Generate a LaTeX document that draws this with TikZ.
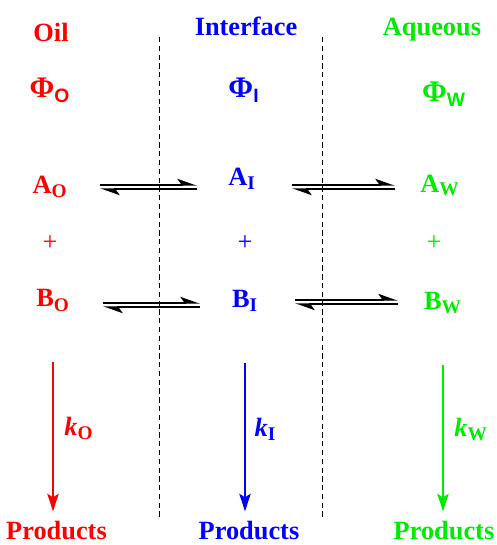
\documentclass[tikz,border=0pt]{standalone}
\usepackage{fontspec}
\setmainfont{Liberation Serif}
\setsansfont{Liberation Sans}
\usetikzlibrary{arrows.meta,calc}

\definecolor{oilred}{RGB}{255,0,0}
\definecolor{ifblue}{RGB}{0,0,255}
\definecolor{aqgreen}{RGB}{0,235,0}

\newcommand{\phsub}[1]{\textsubscript{\fontsize{11}{12}\selectfont #1}}

\begin{document}
\begin{tikzpicture}[
    lbl/.style={font=\fontsize{15}{18}\selectfont\bfseries, inner sep=0pt, anchor=base},
    eqfwd/.style={line width=0.85pt, shorten <=1cm, shorten >=0.9cm, -{Stealth[harpoon, length=10pt, width=7pt, inset=2.5pt]}},
    eqbwd/.style={line width=0.85pt, shorten <=0.9cm, shorten >=1cm, -{Stealth[harpoon, length=10pt, width=7pt, inset=2.5pt]}},
    rate/.style={line width=1pt, shorten <=1.1cm, shorten >=0.18cm, -{Stealth[length=10pt, width=6.5pt, inset=2pt]}},
    phase/.style={black, line width=0.9pt, dash pattern=on 3pt off 2pt}
]
    \useasboundingbox (0,0) rectangle (9.94,10.9);

    % Phase boundaries
    \draw[phase] (3.19,10.16) -- (3.19,0.5);
    \draw[phase] (6.45,10.16) -- (6.45,0.5);

    % Oil
    \node[lbl, oilred] (oil) at (1.02,10.06) {Oil};
    \node[lbl, oilred] (phio) at (1.00,8.94) {\fontsize{17}{18}\selectfont Φ\phsub{\sffamily O}};
    \node[lbl, oilred] (ao) at (1.00,7.04) {A\phsub{O}};
    \node[lbl, oilred, anchor=center] (pluso) at (1.00,6.04) {\mdseries +};
    \node[lbl, oilred] (bo) at (1.06,4.76) {B\phsub{O}};
    \node[lbl, oilred] (po) at (1.13,0.12) {Products};

    % Interface
    \node[lbl, ifblue] (iface) at (4.92,10.2) {Interface};
    \node[lbl, ifblue] (phii) at (4.88,8.94) {\fontsize{17}{18}\selectfont Φ\phsub{\sffamily I}};
    \node[lbl, ifblue] (ai) at (4.84,7.18) {A\phsub{I}};
    \node[lbl, ifblue, anchor=center] (plusi) at (4.90,6.04) {\mdseries +};
    \node[lbl, ifblue] (bi) at (4.90,4.74) {B\phsub{I}};
    \node[lbl, ifblue] (pi) at (4.98,0.12) {Products};

    % Aqueous
    \node[lbl, aqgreen] (aq) at (8.64,10.2) {Aqueous};
    \node[lbl, aqgreen] (phiw) at (8.88,8.86) {\fontsize{17}{18}\selectfont Φ\phsub{\sffamily W}};
    \node[lbl, aqgreen] (aw) at (8.80,7.06) {A\phsub{W}};
    \node[lbl, aqgreen, anchor=center] (plusw) at (8.68,6.04) {\mdseries +};
    \node[lbl, aqgreen] (bw) at (8.86,4.70) {B\phsub{W}};
    \node[lbl, aqgreen] (pw) at (8.88,0.12) {Products};

    % Partitioning equilibria
    \draw[eqfwd] ($(ao.base)+(0,0.16)$) -- ($(ai.base |- ao.base)+(0,0.16)$);
    \draw[eqbwd] ($(ai.base |- ao.base)+(0,0.08)$) -- ($(ao.base)+(0,0.08)$);
    \draw[eqfwd] ($(ai.base |- aw.base)+(0,0.14)$) -- ($(aw.base)+(0,0.14)$);
    \draw[eqbwd] ($(aw.base)+(0,0.06)$) -- ($(ai.base |- aw.base)+(0,0.06)$);
    \draw[eqfwd] ($(bo.base)+(0,0.08)$) -- ($(bi.base |- bo.base)+(0,0.08)$);
    \draw[eqbwd] ($(bi.base |- bo.base)+(0,0)$) -- ($(bo.base)+(0,0)$);
    \draw[eqfwd] ($(bi.base |- bw.base)+(0,0.2)$) -- ($(bw.base)+(0,0.2)$);
    \draw[eqbwd] ($(bw.base)+(0,0.12)$) -- ($(bi.base |- bw.base)+(0,0.12)$);

    % Reactions
    \draw[rate, oilred] (bo.base) -- (bo.base |- po.north)
        node[lbl, anchor=west, pos=0.57, xshift=6pt] (ko) {\textit{k}\phsub{O}};
    \draw[rate, ifblue] (bi.base) -- (bi.base |- pi.north)
        node[lbl, anchor=west, pos=0.57, xshift=5pt] (ki) {\textit{k}\phsub{I}};
    \draw[rate, aqgreen] (bw.base) -- (bw.base |- pw.north)
        node[lbl, anchor=west, pos=0.57, xshift=6pt] (kw) {\textit{k}\phsub{W}};
\end{tikzpicture}
\end{document}
